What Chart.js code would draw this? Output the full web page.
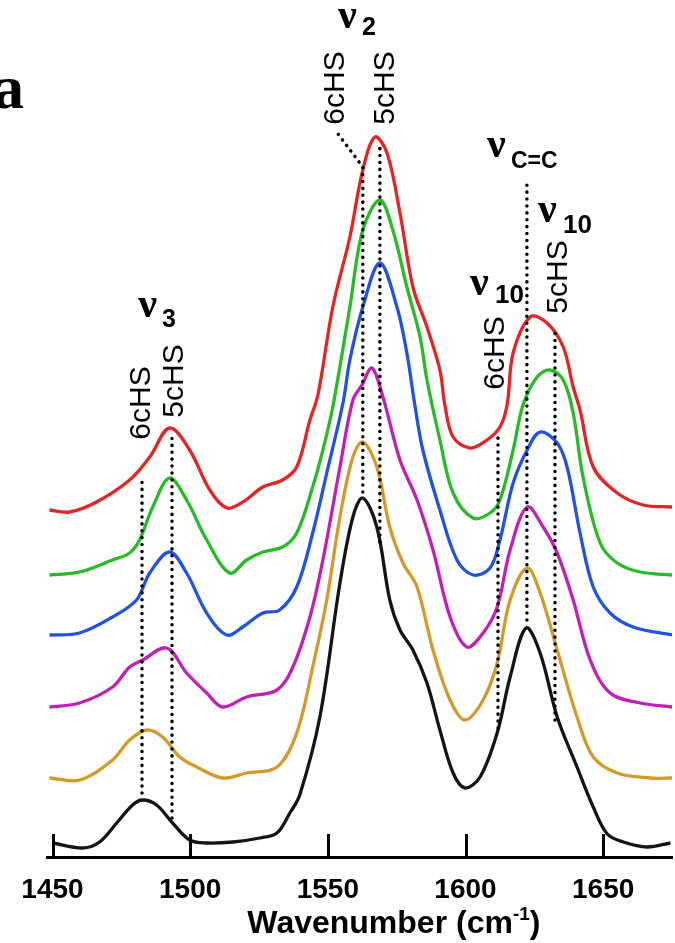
<!DOCTYPE html>
<html>
<head>
<meta charset="utf-8">
<script src="https://cdn.jsdelivr.net/npm/chart.js"></script>
<style>
  html, body { margin: 0; padding: 0; background: #fff; }
</style>
</head>
<body>
<canvas id="raman-chart" width="675" height="943"></canvas>
<script>
// x axis
var tickVals = [1450, 1500, 1550, 1600, 1650];

// spectra, bottom to top (wavenumber / offset intensity, arb. units)
var wnRed = [1448.9,1456.2,1466.0,1478.0,1485.3,1492.5,1499.8,1507.1,1513.3,1519.1,1526.4,1533.6,1538.7,1543.5,1546.4,1551.8,1558.0,1562.7,1567.1,1571.5,1576.2,1580.9,1586.0,1590.7,1592.5,1595.5,1601.6,1607.8,1612.5,1615.1,1617.3,1623.5,1629.6,1635.5,1639.1,1641.6,1646.4,1655.1,1664.5,1675.1];
var ampRed = [347,345,355,377,400,429,407,367,349,355,370,377,390,437,462,550,620,687,720,704,644,570,530,487,452,420,409,417,430,452,504,540,534,510,470,447,390,364,352,350];

var wnGreen = [1448.9,1459.8,1471.8,1478.0,1481.6,1486.4,1492.5,1498.7,1506.0,1514.4,1520.5,1526.4,1533.6,1538.7,1544.5,1548.2,1551.8,1558.0,1562.7,1568.9,1573.6,1578.7,1583.5,1586.0,1590.7,1595.5,1602.7,1608.9,1612.5,1617.3,1620.9,1626.0,1630.7,1635.5,1639.1,1642.7,1648.9,1655.1,1663.5,1675.1];
var ampGreen = [282,285,297,304,317,350,379,357,317,284,297,305,310,324,370,407,450,550,627,657,627,570,520,477,417,364,339,344,357,407,452,480,487,477,444,380,314,294,285,282];

var wnBlue = [1448.9,1459.8,1471.8,1480.5,1485.3,1492.5,1498.7,1506.0,1513.3,1519.1,1526.4,1532.5,1538.7,1544.5,1549.6,1555.5,1558.0,1562.7,1568.9,1575.1,1578.7,1581.6,1584.5,1590.7,1596.9,1602.7,1608.9,1612.5,1617.3,1622.4,1627.1,1633.3,1636.9,1641.6,1646.4,1652.5,1660.9,1675.1];
var ampBlue = [222,224,240,257,284,305,284,244,222,230,244,247,270,324,384,454,497,550,594,550,504,452,407,347,297,282,289,317,374,407,425,414,390,324,270,244,230,222];

var wnMagenta = [1448.9,1459.8,1471.8,1478.0,1482.7,1491.5,1498.7,1506.0,1511.8,1520.5,1531.5,1537.3,1543.5,1548.2,1554.4,1559.1,1562.4,1566.0,1570.0,1576.2,1582.4,1588.2,1594.4,1600.5,1606.4,1611.5,1616.2,1622.4,1628.2,1633.3,1639.1,1645.3,1652.5,1663.5,1675.1];
var ampMagenta = [150,154,170,190,197,209,184,164,150,160,167,190,240,297,390,457,472,489,460,397,357,307,240,210,224,250,307,350,330,304,257,197,164,154,150];

var wnOrange = [1448.9,1459.8,1471.8,1478.0,1484.2,1490.0,1496.2,1502.4,1511.8,1520.5,1531.5,1538.7,1544.5,1549.6,1554.4,1559.1,1562.7,1567.8,1572.5,1577.3,1582.4,1588.2,1594.4,1599.8,1606.4,1611.5,1616.2,1622.4,1627.1,1633.3,1640.5,1646.4,1655.1,1667.1,1675.1];
var ampOrange = [79,77,97,117,127,120,100,90,79,84,90,124,190,257,340,400,415,390,330,294,270,207,157,137,157,194,257,289,264,207,140,100,84,79,79];

var wnBlack = [1450.0,1460.9,1467.1,1473.3,1479.1,1482.7,1487.8,1493.6,1499.8,1506.0,1515.5,1525.3,1531.5,1536.2,1539.8,1547.1,1554.4,1559.1,1562.7,1567.8,1572.5,1576.2,1580.9,1586.0,1590.7,1595.5,1599.8,1605.3,1611.5,1616.2,1622.0,1627.1,1633.3,1640.5,1646.4,1651.5,1657.3,1666.0,1674.4];
var ampBlack = [14,9,15,34,52,57,52,34,17,14,15,19,24,44,62,140,274,340,359,330,257,227,207,174,127,84,69,80,124,180,229,204,140,90,50,23,15,10,14];

// dotted band markers [wavenumber, intensity] pairs
var markNu3_6c = [[1482.5, 64], [1482.5, 380]];
var markNu3_5c = [[1493.4, 39], [1493.4, 422]];
var markNu2_6c = [[1562.7, 365], [1562.7, 690], [1552.6, 727]];
var markNu2_5c = [[1568.9, 315], [1568.9, 714]];
var markNu10_6c = [[1611.8, 129], [1611.8, 425]];
var markCC = [[1622.3, 237], [1622.3, 672]];
var markNu10_5c = [[1632.5, 137], [1632.5, 527]];

function pts(wn, amp) {
  return wn.map(function (w, i) { return { x: w, y: amp[i] }; });
}
function pairPts(p) {
  return p.map(function (q) { return { x: q[0], y: q[1] }; });
}

var curves = [
  { wn: wnBlack, amp: ampBlack, color: "#141414" },
  { wn: wnOrange, amp: ampOrange, color: "#d39a2a" },
  { wn: wnMagenta, amp: ampMagenta, color: "#c41fb4" },
  { wn: wnBlue, amp: ampBlue, color: "#2152e6" },
  { wn: wnGreen, amp: ampGreen, color: "#27bb25" },
  { wn: wnRed, amp: ampRed, color: "#e52424" }
];
var marks = [markNu3_6c, markNu3_5c, markNu2_6c, markNu2_5c, markNu10_6c, markCC, markNu10_5c];

var datasets = [];
marks.forEach(function (m) {
  datasets.push({
    data: pairPts(m),
    borderColor: "#000",
    borderWidth: 3.5,
    borderDash: [0.1, 6.8],
    borderCapStyle: "round",
    pointRadius: 0,
    tension: 0,
    order: 0
  });
});
curves.forEach(function (c) {
  datasets.push({
    data: pts(c.wn, c.amp),
    borderColor: c.color,
    borderWidth: 3.3,
    borderJoinStyle: "round",
    pointRadius: 0,
    tension: 0.35,
    order: 1
  });
});

// text labels, placed in data coordinates
var greekLabels = [
  { at: [1553.7, 829], sub: "2", subAt: [1562.4, 822], size: 25 },
  { at: [1481.1, 540], sub: "3", subAt: [1489.8, 530], size: 25 },
  { at: [1607.8, 700], sub: "C=C", subAt: [1616.5, 689], size: 23 },
  { at: [1626.3, 635], sub: "10", subAt: [1635.4, 624], size: 26 },
  { at: [1601.6, 562], sub: "10", subAt: [1610.7, 554], size: 26 }
];
var vertLabels = [
  { text: "6cHS", at: [1553.0, 769] },
  { text: "5cHS", at: [1571.1, 769] },
  { text: "6cHS", at: [1482.5, 454] },
  { text: "5cHS", at: [1494.5, 476] },
  { text: "5cHS", at: [1634.0, 580] },
  { text: "6cHS", at: [1611.1, 504] }
];

var annotate = {
  id: "annotate",
  afterDraw: function (chart) {
    var ctx = chart.ctx;
    var xs = chart.scales.x, ys = chart.scales.y;
    var px = function (w) { return xs.getPixelForValue(w); };
    var py = function (v) { return ys.getPixelForValue(v); };
    ctx.save();
    ctx.fillStyle = "#000";
    ctx.strokeStyle = "#000";

    // inward tick marks
    ctx.lineWidth = 3;
    tickVals.forEach(function (v) {
      var xx = Math.round(px(v)) + 0.5;
      ctx.beginPath();
      ctx.moveTo(xx, py(0));
      ctx.lineTo(xx, py(23));
      ctx.stroke();
    });

    // nu labels
    ctx.textAlign = "left";
    ctx.textBaseline = "alphabetic";
    greekLabels.forEach(function (g) {
      ctx.font = 'bold 42px "Liberation Serif"';
      ctx.fillText("\u03BD", px(g.at[0]), py(g.at[1]));
      ctx.font = "bold " + g.size + 'px "Liberation Sans"';
      ctx.fillText(g.sub, px(g.subAt[0]), py(g.subAt[1]));
    });

    // rotated spin-state labels
    ctx.font = '30px "Liberation Sans"';
    ctx.textAlign = "center";
    ctx.textBaseline = "middle";
    vertLabels.forEach(function (l) {
      ctx.save();
      ctx.translate(px(l.at[0]), py(l.at[1]));
      ctx.rotate(-Math.PI / 2);
      ctx.fillText(l.text, 0, 0);
      ctx.restore();
    });

    // axis title with superscript
    var base = chart.chartArea.bottom + 76;
    ctx.textAlign = "left";
    ctx.textBaseline = "alphabetic";
    ctx.font = 'bold 32px "Liberation Sans"';
    var t1 = "Wavenumber (cm", t3 = ")";
    var w1 = ctx.measureText(t1).width, w3 = ctx.measureText(t3).width;
    ctx.font = 'bold 19px "Liberation Sans"';
    var w2 = ctx.measureText("-1").width;
    var left = px(1574) - (w1 + w2 + w3) / 2;
    ctx.font = 'bold 32px "Liberation Sans"';
    ctx.fillText(t1, left, base);
    ctx.fillText(t3, left + w1 + w2, base);
    ctx.font = 'bold 19px "Liberation Sans"';
    ctx.fillText("-1", left + w1, base - 13);

    // panel letter
    ctx.font = 'bold 62px "Liberation Serif"';
    ctx.textAlign = "right";
    ctx.fillText("a", 24, 108);
    ctx.restore();
  }
};

new Chart("raman-chart", {
  type: "scatter",
  data: { datasets: datasets },
  options: {
    responsive: false,
    animation: false,
    showLine: true,
    layout: { padding: { left: 47, right: 3, top: 0, bottom: 0 } },
    plugins: { legend: { display: false }, tooltip: { enabled: false } },
    scales: {
      x: {
        type: "linear",
        position: "bottom",
        min: 1448,
        max: 1675,
        grid: { display: false },
        border: { display: true, color: "#000", width: 3 },
        ticks: {
          color: "#000",
          padding: 8,
          font: { family: "Liberation Sans", size: 28, weight: "bold" },
          callback: function (v) { return String(v); }
        },
        afterBuildTicks: function (s) {
          s.ticks = tickVals.map(function (v) { return { value: v }; });
        },
        afterFit: function (s) { s.height = 86; }
      },
      y: { display: false, min: 0, max: 857 }
    }
  },
  plugins: [annotate]
});
</script>
</body>
</html>
